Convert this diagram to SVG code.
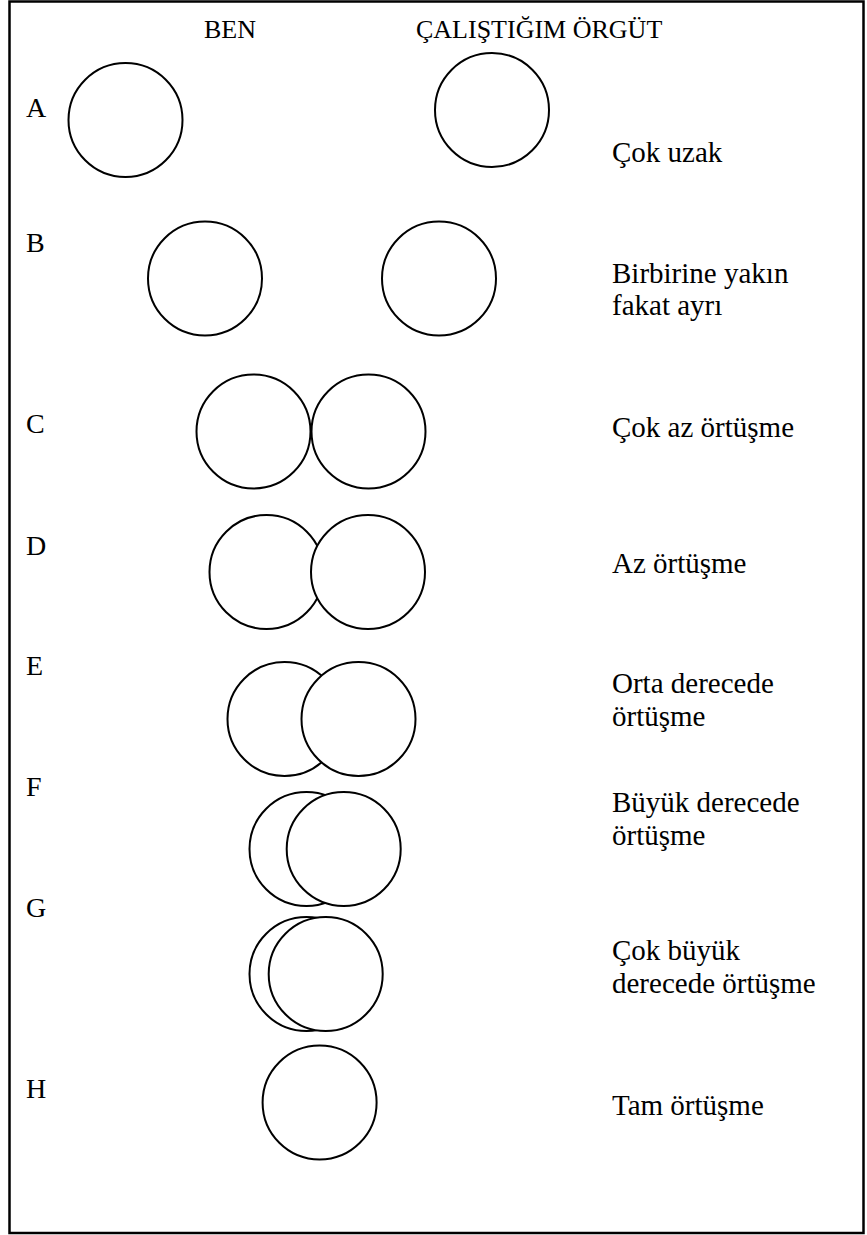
<svg xmlns="http://www.w3.org/2000/svg" width="867" height="1235" viewBox="0 0 867 1235">
  <style>
    .frame { fill: #ffffff; stroke: #000000; stroke-width: 2.5; }
    .set { fill: #ffffff; stroke: #000000; stroke-width: 2; }
    text { fill: #000000; }
    .head { font-family: Times New Roman; font-size: 26px; }
    .row { font-family: Times New Roman; font-size: 28px; }
    .desc { font-family: Times New Roman; font-size: 29px; }
  </style>

  <!-- outer frame -->
  <rect class="frame" x="9.5" y="1.5" width="854" height="1231.5"/>

  <!-- column headings -->
  <g id="headings">
    <text class="head" x="204" y="38">BEN</text>
    <text class="head" x="416" y="38">ÇALIŞTIĞIM ÖRGÜT</text>
  </g>

  <!-- A: far apart -->
  <g id="row-a">
    <text class="row" x="26" y="117">A</text>
    <circle class="set" cx="125.5" cy="120" r="57"/>
    <circle class="set" cx="492" cy="110" r="57"/>
    <text class="desc" x="612" y="162">Çok uzak</text>
  </g>

  <!-- B: close but separate -->
  <g id="row-b">
    <text class="row" x="26" y="252">B</text>
    <circle class="set" cx="205" cy="278.5" r="57"/>
    <circle class="set" cx="439" cy="278.5" r="57"/>
    <text class="desc" x="612" y="283">Birbirine yakın</text>
    <text class="desc" x="612" y="315">fakat ayrı</text>
  </g>

  <!-- C: touching; the right disc is painted over the left one -->
  <g id="row-c">
    <text class="row" x="26" y="433">C</text>
    <circle class="set" cx="253.5" cy="431.5" r="57"/>
    <circle class="set" cx="368.5" cy="431.5" r="57"/>
    <text class="desc" x="612" y="437">Çok az örtüşme</text>
  </g>

  <!-- D: small overlap -->
  <g id="row-d">
    <text class="row" x="26" y="555">D</text>
    <circle class="set" cx="266.5" cy="572" r="57"/>
    <circle class="set" cx="368" cy="572" r="57"/>
    <text class="desc" x="612" y="573">Az örtüşme</text>
  </g>

  <!-- E: medium overlap -->
  <g id="row-e">
    <text class="row" x="26" y="675">E</text>
    <circle class="set" cx="284.5" cy="719" r="57"/>
    <circle class="set" cx="358.5" cy="719" r="57"/>
    <text class="desc" x="612" y="693">Orta derecede</text>
    <text class="desc" x="612" y="726">örtüşme</text>
  </g>

  <!-- F: large overlap -->
  <g id="row-f">
    <text class="row" x="26" y="796">F</text>
    <circle class="set" cx="306.5" cy="849" r="57"/>
    <circle class="set" cx="343.7" cy="849" r="57"/>
    <text class="desc" x="612" y="812">Büyük derecede</text>
    <text class="desc" x="612" y="845">örtüşme</text>
  </g>

  <!-- G: very large overlap -->
  <g id="row-g">
    <text class="row" x="26" y="917">G</text>
    <circle class="set" cx="306.5" cy="974" r="57"/>
    <circle class="set" cx="325.7" cy="974" r="57"/>
    <text class="desc" x="612" y="960">Çok büyük</text>
    <text class="desc" x="612" y="993">derecede örtüşme</text>
  </g>

  <!-- H: complete overlap -->
  <g id="row-h">
    <text class="row" x="26" y="1098">H</text>
    <circle class="set" cx="319.6" cy="1102.5" r="57"/>
    <text class="desc" x="612" y="1115">Tam örtüşme</text>
  </g>
</svg>
